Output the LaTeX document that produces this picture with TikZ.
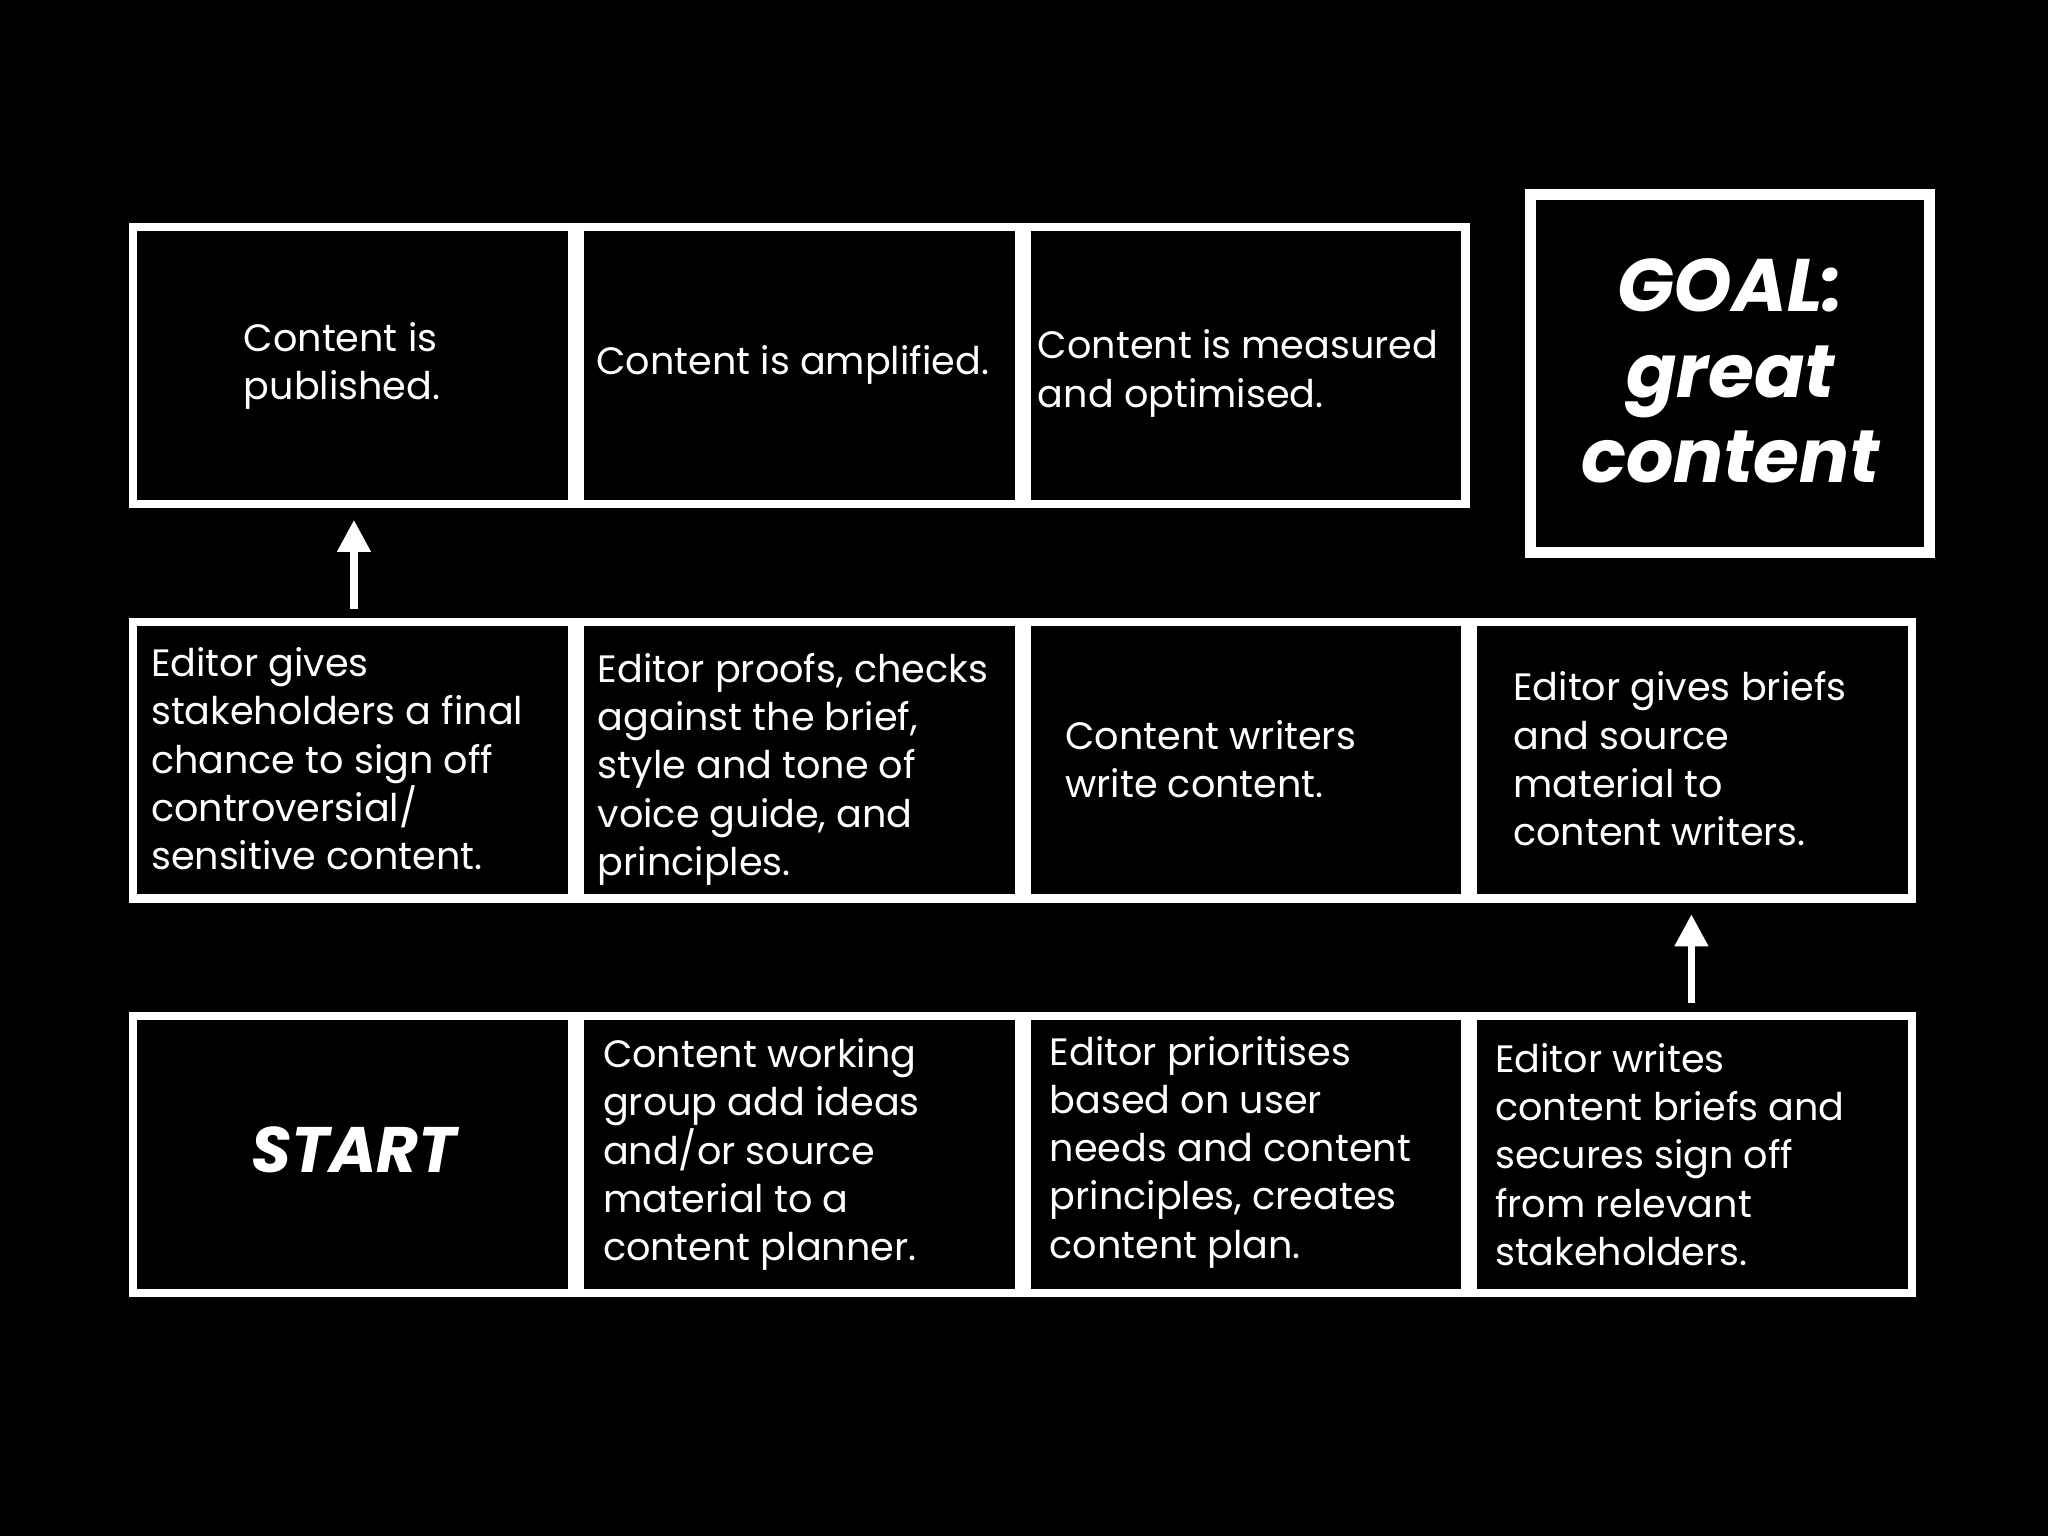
\documentclass[tikz,border=0pt]{standalone}
\usepackage{fontspec}
\usetikzlibrary{arrows.meta}
\setmainfont{Poppins}
\begin{document}
\begin{tikzpicture}[x=0.01cm,y=-0.01cm,
  cell/.style={draw=white,line width=1.8pt},
  txt/.style={text=white,anchor=west,align=left,font=\fontsize{8.3}{10.5}\selectfont,inner sep=0},
  arr/.style={draw=white,line width=1.6pt,-{Triangle[width=7pt,length=7pt]}}]
\fill[black] (0,0) rectangle (1568,1176);
\useasboundingbox (0,0) rectangle (1568,1176);
% top row
\draw[cell] (102,174) rectangle (438,386);
\draw[cell] (444,174) rectangle (780,386);
\draw[cell] (786,174) rectangle (1122,386);
\draw[draw=white,line width=2.4pt] (1172,149) rectangle (1477,423);
% middle
\draw[cell] (102,476) rectangle (438,688);
\draw[cell] (444,476) rectangle (780,688);
\draw[cell] (786,476) rectangle (1122,688);
\draw[cell] (1128,476) rectangle (1464,688);
% bottom
\draw[cell] (102,778) rectangle (438,990);
\draw[cell] (444,778) rectangle (780,990);
\draw[cell] (786,778) rectangle (1122,990);
\draw[cell] (1128,778) rectangle (1464,990);
% texts
\node[txt] (t1) at (186,280) {Content is\\published.};
\node[txt] (t2) at (456,279) {Content is amplified.};
\node[txt] (t3) at (794,286) {Content is measured\\and optimised.};
\node[text=white,align=center,font=\fontsize{16.2}{18.6}\selectfont\bfseries\itshape] (goal) at (1325,284) {GOAL:\\great\\content};
\node[txt] (m1) at (115,581) {Editor gives\\stakeholders a final\\chance to sign off\\controversial/\\sensitive content.};
\node[txt] (m2) at (457,589) {Editor proofs, checks\\against the brief,\\style and tone of\\voice guide, and\\principles.};
\node[txt] (m3) at (815,581) {Content writers\\write content.};
\node[txt] (m4) at (1158,581) {Editor gives briefs\\and source\\material to\\content writers.};
\node[text=white,font=\fontsize{14}{16}\selectfont\bfseries\itshape] (start) at (271,880) {START};
\node[txt] (b2) at (461,884) {Content working\\group add ideas\\and/or source\\material to a\\content planner.};
\node[txt] (b3) at (803,882) {Editor prioritises\\based on user\\needs and content\\principles, creates\\content plan.};
\node[txt] (b4) at (1144,884) {Editor writes\\content briefs and\\secures sign off\\from relevant\\stakeholders.};
\coordinate (a1s) at (271,466); \coordinate (a1e) at (271,398);
\coordinate (a2s) at (1295,768); \coordinate (a2e) at (1295,700);
\draw[arr] (a1s) -- (a1e);
\draw[arr] (a2s) -- (a2e);
\end{tikzpicture}
\end{document}
